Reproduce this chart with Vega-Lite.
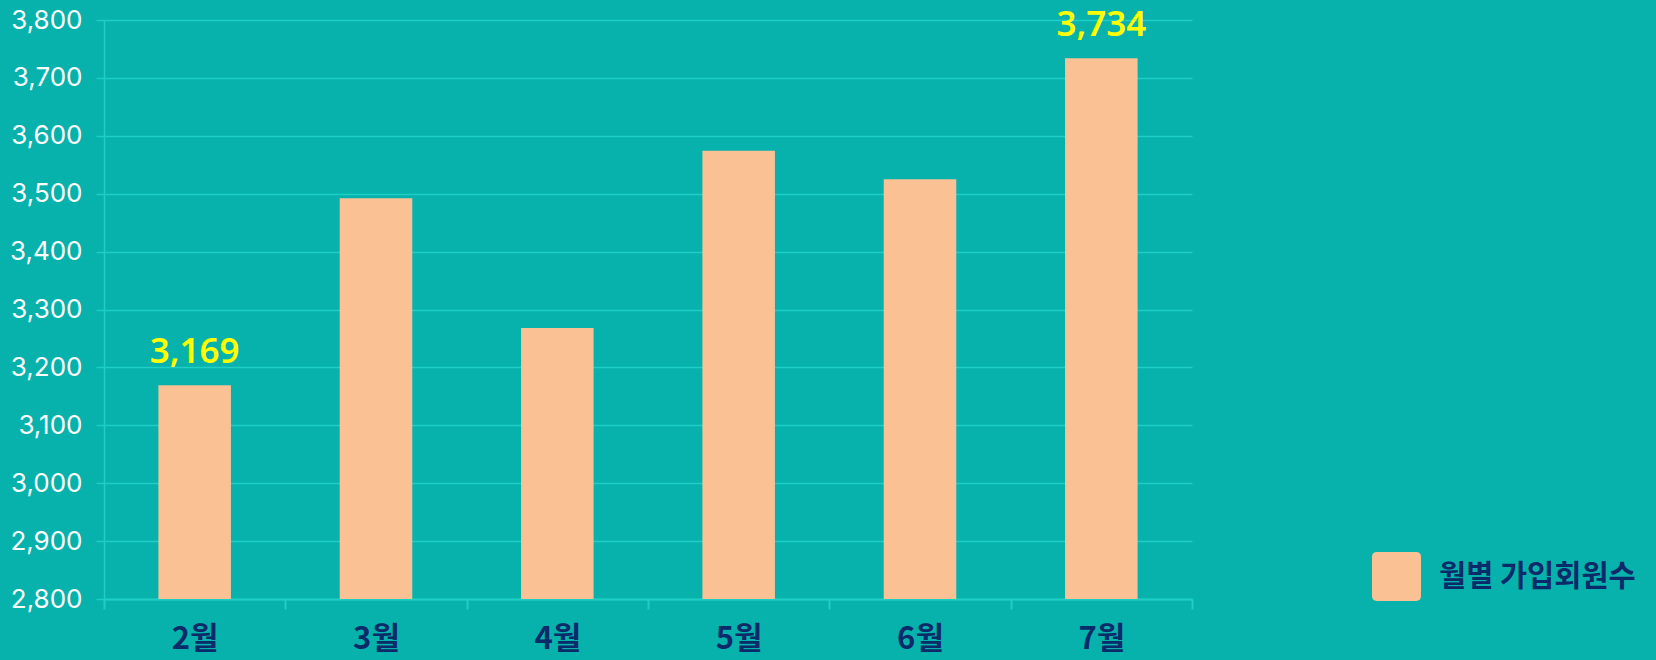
{
  "$schema": "https://vega.github.io/schema/vega-lite/v6.json",
  "width": 1088,
  "height": 579,
  "autosize": {"type": "none"},
  "padding": {"left": 104, "top": 20, "right": 464, "bottom": 61},
  "background": "#06b2ab",
  "config": {"view": {"stroke": null}},
  "data": {
    "values": [
      {"month": "2월", "value": 3169},
      {"month": "3월", "value": 3492},
      {"month": "4월", "value": 3268},
      {"month": "5월", "value": 3574},
      {"month": "6월", "value": 3525},
      {"month": "7월", "value": 3734}
    ]
  },
  "encoding": {
    "x": {
      "field": "month",
      "type": "nominal",
      "sort": null,
      "scale": {"paddingInner": 0, "paddingOuter": 0},
      "axis": {
        "title": null,
        "labelAngle": 0,
        "labelFont": "Noto Sans CJK KR",
        "labelFontWeight": "bold",
        "labelFontSize": 31,
        "labelColor": "#0b2a6a",
        "labelPadding": 15,
        "tickBand": "extent",
        "tickSize": 10,
        "tickWidth": 2,
        "tickColor": "#1fcfc6",
        "domainColor": "#1fcfc6",
        "domainWidth": 2,
        "grid": false
      }
    },
    "y": {
      "field": "value",
      "type": "quantitative",
      "scale": {"domain": [2800, 3800], "zero": false, "nice": false},
      "axis": {
        "title": null,
        "values": [2800, 2900, 3000, 3100, 3200, 3300, 3400, 3500, 3600, 3700, 3800],
        "format": ",d",
        "labelColor": "#ffffff",
        "labelFont": "Inter",
        "labelFontSize": 26,
        "labelPadding": 14,
        "tickSize": 8,
        "tickColor": "#1fcfc6",
        "tickWidth": 1.5,
        "domainColor": "#1fcfc6",
        "domainWidth": 1.5,
        "gridColor": "#1fcfc6",
        "gridWidth": 1.5
      }
    }
  },
  "layer": [
    {
      "mark": {"type": "bar", "width": {"band": 0.4}},
      "encoding": {
        "y2": {"datum": 2800},
        "color": {
          "datum": "월별 가입회원수",
          "scale": {"range": ["#f9c194"]},
          "legend": {
            "title": null,
            "orient": "none",
            "legendX": 1268,
            "legendY": 532,
            "labelFont": "Noto Sans CJK KR",
            "labelFontSize": 29.5,
            "labelFontWeight": "bold",
            "labelColor": "#0b2a6a",
            "labelOffset": 18,
            "labelLimit": 400,
            "symbolSize": 2401,
            "symbolStrokeWidth": 0,
            "symbolOpacity": 1,
            "symbolFillColor": "#fcc896",
            "symbolType": "M-0.8,-1L0.8,-1Q1,-1 1,-0.8L1,0.8Q1,1 0.8,1L-0.8,1Q-1,1 -1,0.8L-1,-0.8Q-1,-1 -0.8,-1Z"
          }
        }
      }
    },
    {
      "transform": [
        {"joinaggregate": [{"op": "max", "field": "value", "as": "maxv"}, {"op": "min", "field": "value", "as": "minv"}]},
        {"filter": "datum.value === datum.maxv || datum.value === datum.minv"}
      ],
      "mark": {
        "type": "text",
        "font": "Noto Sans",
        "fontSize": 35,
        "fontWeight": 600,
        "color": "#ffff00",
        "baseline": "alphabetic",
        "align": "center",
        "dy": -22
      },
      "encoding": {
        "text": {"field": "value", "type": "quantitative", "format": ","}
      }
    }
  ]
}
